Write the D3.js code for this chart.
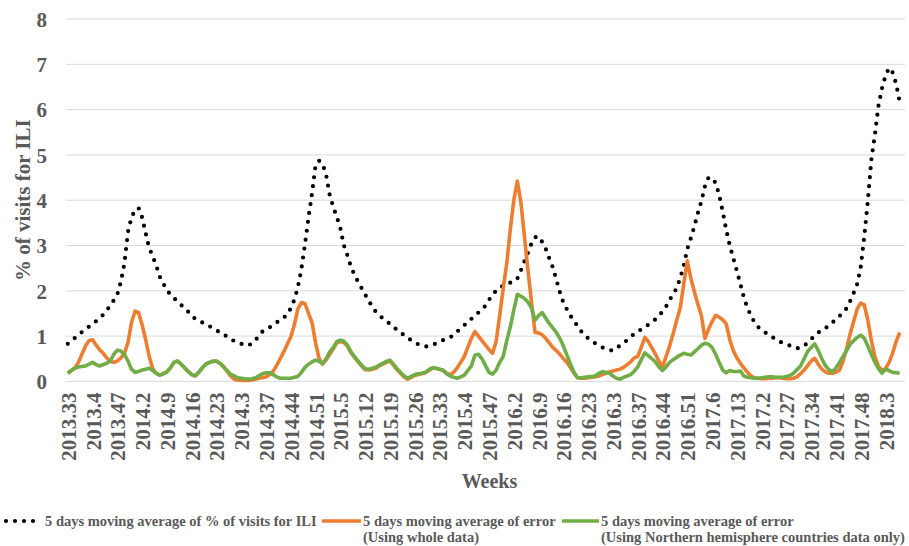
<!DOCTYPE html>
<html>
<head>
<meta charset="utf-8">
<script src="https://cdn.jsdelivr.net/npm/d3@7"></script>
<style>
  body { margin: 0; background: #fff; }
  svg text { font-family: "Liberation Serif", "Times New Roman", serif; font-weight: bold; fill: #595959; }
</style>
</head>
<body>
<svg width="909" height="546"></svg>
<script>
// weeks per year, used to build the week categories (year.week)
var yearWeeks = {2013: 52, 2014: 53, 2015: 52, 2016: 52, 2017: 52, 2018: 52};
var firstYear = 2013, firstWeek = 33, nCategories = 237;

var yTicks = [0, 1, 2, 3, 4, 5, 6, 7, 8];

// 5 days moving average of % of visits for ILI
var ili = [
  0.83,0.89,0.96,1.02,1.09,1.15,1.21,1.27,1.33,1.40,
  1.47,1.57,1.67,1.79,1.92,2.20,2.60,3.30,3.62,3.78,
  3.83,3.62,3.27,2.95,2.76,2.55,2.31,2.16,2.01,1.92,
  1.84,1.76,1.69,1.61,1.54,1.45,1.38,1.34,1.30,1.25,
  1.22,1.17,1.13,1.08,1.04,0.99,0.94,0.89,0.86,0.83,
  0.81,0.79,0.84,0.90,1.02,1.10,1.15,1.19,1.25,1.30,
  1.36,1.41,1.47,1.62,1.80,2.08,2.48,3.02,3.62,4.15,
  4.78,4.87,4.80,4.55,4.11,3.85,3.63,3.38,3.00,2.78,
  2.53,2.35,2.20,2.06,1.92,1.78,1.65,1.54,1.46,1.39,
  1.33,1.27,1.20,1.14,1.08,1.02,0.96,0.91,0.86,0.82,
  0.79,0.77,0.78,0.80,0.84,0.87,0.91,0.94,0.97,1.03,
  1.10,1.17,1.24,1.31,1.38,1.45,1.52,1.59,1.67,1.80,
  1.92,2.00,2.07,2.11,2.15,2.18,2.20,2.27,2.45,2.65,
  2.84,3.05,3.18,3.20,3.08,2.93,2.72,2.52,2.25,1.97,
  1.74,1.59,1.45,1.33,1.22,1.11,1.02,0.95,0.89,0.84,
  0.80,0.75,0.72,0.69,0.68,0.74,0.79,0.85,0.91,0.98,
  1.05,1.10,1.15,1.20,1.25,1.31,1.37,1.45,1.54,1.65,
  1.80,1.92,2.06,2.28,2.55,2.92,3.16,3.42,3.72,3.98,
  4.31,4.50,4.49,4.38,4.12,3.75,3.35,3.00,2.72,2.44,
  2.15,1.85,1.62,1.45,1.30,1.20,1.14,1.08,1.03,0.98,
  0.93,0.88,0.85,0.82,0.79,0.75,0.73,0.75,0.78,0.86,
  0.93,1.01,1.08,1.12,1.17,1.24,1.30,1.37,1.44,1.53,
  1.61,1.77,1.95,2.15,2.53,3.20,3.98,4.90,5.45,6.08,
  6.47,6.75,6.92,6.82,6.57,6.17
];

// 5 days moving average of error (using whole data)
var errWhole = [
  0.18,0.24,0.30,0.42,0.60,0.78,0.90,0.92,0.80,0.70,
  0.62,0.52,0.44,0.42,0.45,0.52,0.62,0.85,1.30,1.55,
  1.52,1.25,0.92,0.55,0.28,0.18,0.14,0.17,0.21,0.30,
  0.42,0.45,0.38,0.30,0.22,0.15,0.12,0.20,0.30,0.38,
  0.42,0.44,0.44,0.40,0.33,0.22,0.12,0.05,0.03,0.02,
  0.02,0.02,0.03,0.05,0.07,0.08,0.10,0.15,0.22,0.35,
  0.50,0.65,0.82,0.98,1.25,1.60,1.74,1.72,1.50,1.30,
  0.85,0.50,0.38,0.48,0.60,0.72,0.85,0.88,0.86,0.78,
  0.63,0.53,0.43,0.34,0.26,0.25,0.27,0.29,0.34,0.38,
  0.42,0.45,0.36,0.26,0.18,0.10,0.05,0.09,0.13,0.15,
  0.17,0.19,0.24,0.29,0.29,0.27,0.24,0.18,0.15,0.20,
  0.30,0.42,0.55,0.75,0.95,1.10,1.00,0.90,0.80,0.70,
  0.62,0.88,1.45,2.05,2.60,3.35,4.00,4.42,3.95,3.20,
  2.45,1.75,1.08,1.07,1.03,0.95,0.85,0.75,0.68,0.60,
  0.50,0.42,0.30,0.18,0.08,0.07,0.07,0.08,0.09,0.10,
  0.12,0.15,0.18,0.21,0.23,0.25,0.27,0.31,0.37,0.43,
  0.52,0.55,0.75,0.97,0.88,0.74,0.60,0.45,0.32,0.55,
  0.78,1.05,1.35,1.62,2.15,2.66,2.28,1.98,1.70,1.45,
  0.95,1.15,1.32,1.46,1.42,1.36,1.27,0.92,0.68,0.52,
  0.40,0.30,0.20,0.12,0.08,0.07,0.06,0.06,0.07,0.07,
  0.08,0.08,0.07,0.06,0.06,0.07,0.10,0.17,0.25,0.35,
  0.45,0.51,0.38,0.27,0.21,0.18,0.18,0.20,0.25,0.45,
  0.72,1.05,1.32,1.60,1.73,1.69,1.35,0.90,0.55,0.33,
  0.25,0.28,0.42,0.62,0.88,1.08
];

// 5 days moving average of error (using Northern hemisphere countries data only)
var errNorth = [
  0.18,0.24,0.29,0.32,0.33,0.34,0.38,0.42,0.37,0.34,
  0.37,0.40,0.45,0.60,0.69,0.67,0.60,0.45,0.27,0.20,
  0.22,0.25,0.27,0.29,0.24,0.18,0.14,0.17,0.21,0.30,
  0.42,0.45,0.38,0.30,0.22,0.15,0.12,0.20,0.30,0.38,
  0.42,0.45,0.45,0.40,0.32,0.24,0.16,0.12,0.08,0.07,
  0.06,0.05,0.06,0.08,0.12,0.17,0.19,0.19,0.15,0.10,
  0.07,0.07,0.07,0.07,0.09,0.11,0.20,0.31,0.38,0.43,
  0.47,0.44,0.40,0.50,0.65,0.75,0.88,0.91,0.89,0.80,
  0.65,0.55,0.45,0.36,0.28,0.27,0.29,0.31,0.36,0.40,
  0.44,0.47,0.38,0.28,0.20,0.12,0.07,0.11,0.15,0.17,
  0.18,0.20,0.26,0.30,0.29,0.27,0.25,0.17,0.12,0.09,
  0.07,0.10,0.14,0.24,0.34,0.58,0.60,0.50,0.35,0.20,
  0.16,0.25,0.42,0.55,0.90,1.20,1.58,1.92,1.88,1.83,
  1.75,1.62,1.35,1.45,1.52,1.40,1.28,1.18,1.08,0.95,
  0.78,0.58,0.38,0.20,0.08,0.08,0.09,0.10,0.11,0.12,
  0.18,0.21,0.20,0.18,0.12,0.07,0.05,0.09,0.12,0.15,
  0.22,0.32,0.48,0.63,0.57,0.50,0.43,0.32,0.24,0.32,
  0.42,0.48,0.53,0.58,0.62,0.60,0.58,0.65,0.72,0.80,
  0.84,0.82,0.75,0.60,0.42,0.25,0.19,0.24,0.22,0.22,
  0.23,0.12,0.09,0.08,0.07,0.07,0.08,0.09,0.10,0.10,
  0.09,0.09,0.09,0.11,0.13,0.18,0.26,0.34,0.50,0.66,
  0.75,0.83,0.68,0.50,0.35,0.26,0.21,0.30,0.42,0.55,
  0.68,0.82,0.90,0.97,1.02,0.95,0.78,0.60,0.42,0.28,
  0.18,0.27,0.24,0.20,0.19,0.18
];

var legendLabels = [
  ["5 days moving average of % of visits for ILI"],
  ["5 days moving average of error", "(Using whole data)"],
  ["5 days moving average of error", "(Using Northern hemisphere countries data only)"]
];

// build week categories as "year-week" keys
var weeks = [];
var yr = firstYear, wk = firstWeek;
for (var k = 0; k < nCategories; k++) {
  weeks.push(yr + "-" + wk);
  wk++;
  if (wk > yearWeeks[yr]) { yr++; wk = 1; }
}

// labels are shown like numbers: 2013.40 -> 2013.4
function weekLabel(key) {
  var p = key.split("-");
  var w = +p[1];
  return p[0] + "." + (w % 10 === 0 ? w / 10 : w);
}

var svg = d3.select("svg");
var plotLeft = 66, plotRight = 905, plotTop = 19, plotBottom = 381.4;

var x = d3.scaleBand().domain(weeks).range([plotLeft, plotRight]);
var y = d3.scaleLinear().domain([0, 8]).range([plotBottom, plotTop]);
var xc = function(i) { return x(weeks[i]) + x.bandwidth() / 2; };

// gridlines
svg.append("g")
  .selectAll("line")
  .data(yTicks)
  .enter().append("line")
  .attr("x1", plotLeft).attr("x2", plotRight)
  .attr("y1", d => y(d)).attr("y2", d => y(d))
  .style("stroke", "#d9d9d9")
  .style("stroke-width", 1);

// y axis labels
var yAxis = svg.append("g")
  .attr("transform", "translate(" + plotLeft + ",0)")
  .call(d3.axisLeft(y).tickValues(yTicks).tickSize(0).tickPadding(19).tickFormat(d3.format("d")));
yAxis.select(".domain").remove();
yAxis.selectAll("text")
  .style("font-size", "21px")
  .attr("dy", "0.35em");

// x axis labels, every 7 weeks
var xAxis = svg.append("g")
  .attr("transform", "translate(0," + plotBottom + ")")
  .call(d3.axisBottom(x)
    .tickValues(weeks.filter((d, i) => i % 7 === 0))
    .tickFormat(weekLabel)
    .tickSize(0));
xAxis.select(".domain").remove();
xAxis.selectAll("text")
  .style("font-size", "21px")
  .attr("text-anchor", "end")
  .attr("transform", "rotate(-90)")
  .attr("x", -11)
  .attr("y", 0)
  .attr("dy", "0.38em");

// axis titles
svg.append("text")
  .attr("x", (plotLeft + plotRight) / 2 + 4)
  .attr("y", 488)
  .attr("text-anchor", "middle")
  .style("font-size", "20px")
  .text("Weeks");

svg.append("text")
  .attr("transform", "translate(30," + ((plotTop + plotBottom) / 2) + ") rotate(-90)")
  .attr("text-anchor", "middle")
  .style("font-size", "21px")
  .text("% of visits for ILI");

// series
var line = d3.line()
  .x((d, i) => xc(i))
  .y(d => y(d));

svg.append("path")
  .datum(ili)
  .attr("d", line)
  .style("fill", "none")
  .style("stroke", "#000")
  .style("stroke-width", 4.2)
  .style("stroke-linecap", "round")
  .style("stroke-dasharray", "0 9");

svg.append("path")
  .datum(errWhole)
  .attr("d", line)
  .style("fill", "none")
  .style("stroke", "#ed7d31")
  .style("stroke-width", 3.6)
  .style("stroke-linejoin", "round");

svg.append("path")
  .datum(errNorth)
  .attr("d", line)
  .style("fill", "none")
  .style("stroke", "#70ad47")
  .style("stroke-width", 3.6)
  .style("stroke-linejoin", "round");

// legend
var legendY = 521;
var legendItems = [
  {x1: 6, x2: 37, tx: 45, stroke: "#000", dash: "0 9", w: 4.2, cap: "round"},
  {x1: 322, x2: 361, tx: 363, stroke: "#ed7d31", dash: null, w: 3.6, cap: "butt"},
  {x1: 562, x2: 599, tx: 601, stroke: "#70ad47", dash: null, w: 3.6, cap: "butt"}
];

var legend = svg.append("g");
legendItems.forEach(function(item, i) {
  legend.append("line")
    .attr("x1", item.x1).attr("x2", item.x2)
    .attr("y1", legendY).attr("y2", legendY)
    .style("stroke", item.stroke)
    .style("stroke-width", item.w)
    .style("stroke-linecap", item.cap)
    .style("stroke-dasharray", item.dash);
  legendLabels[i].forEach(function(t, j) {
    legend.append("text")
      .attr("x", item.tx)
      .attr("y", 525.5 + j * 16.5)
      .style("font-size", "14.5px")
      .text(t);
  });
});
</script>
</body>
</html>
